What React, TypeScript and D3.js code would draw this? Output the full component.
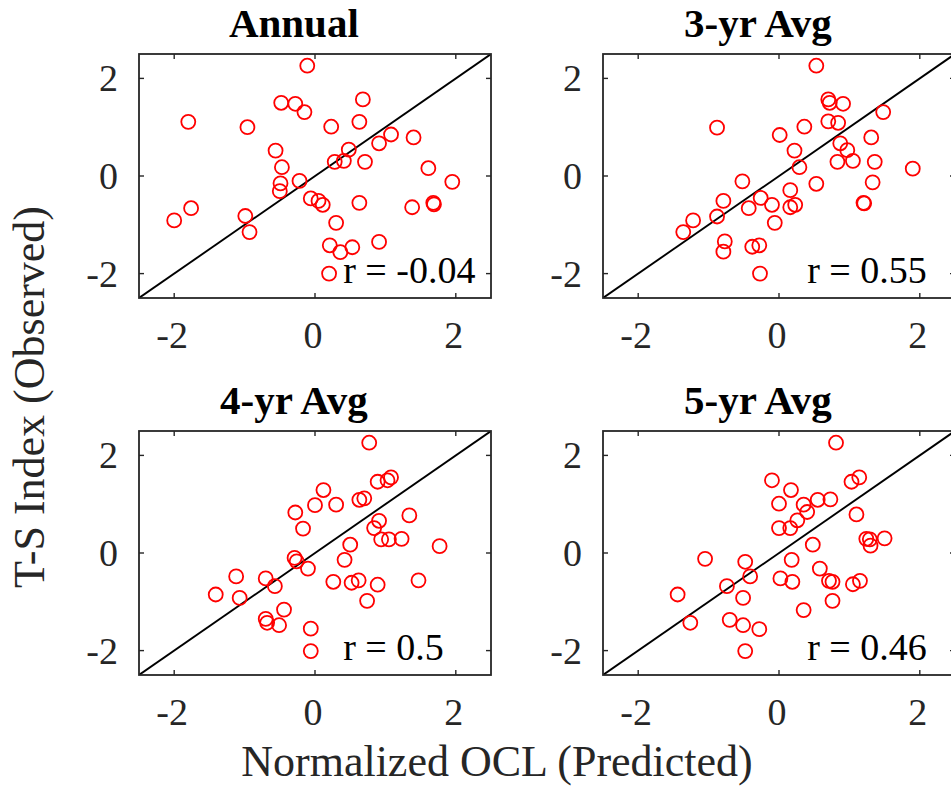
import * as d3 from 'd3'

// panel titles and r values
const titles = ['Annual', '3-yr Avg', '4-yr Avg', '5-yr Avg']
const rValues = ['-0.04', '0.55', '0.5', '0.46']
const ticks = [-2, 0, 2]

const annualX = [-0.11, -1.8, -0.96, -0.48, -0.28, -0.15, 0.23, 0.68, 0.63, 1.08, 0.91, 1.4, -0.56, 0.48, 0.28, 0.41, 0.71, -0.47, 1.61, -0.22, -0.49, -0.5, 1.95, -0.06, 0.05, 0.11, 0.63, 1.38, 1.68, 1.69, -1.76, -2.0, -0.99, -0.93, 0.3, 0.91, 0.21, 0.36, 0.53, 0.2]
const annualY = [2.26, 1.11, 1.0, 1.5, 1.48, 1.31, 1.01, 1.57, 1.11, 0.85, 0.67, 0.79, 0.52, 0.54, 0.29, 0.31, 0.29, 0.18, 0.16, -0.1, -0.15, -0.31, -0.12, -0.46, -0.51, -0.59, -0.55, -0.64, -0.55, -0.58, -0.66, -0.91, -0.82, -1.15, -0.96, -1.35, -1.42, -1.56, -1.46, -2.0]

const avg3X = [0.53, -0.88, 0.7, 0.72, 0.91, 0.7, 0.84, 1.48, 0.36, 0.01, 1.31, 0.87, 0.97, 0.22, 0.83, 1.05, 1.36, 0.29, 1.9, -0.52, 0.53, 1.33, 0.16, -0.79, -0.26, -0.1, -0.43, 0.16, 0.23, 1.2, 1.21, -1.22, -0.88, -1.36, -0.06, -0.77, -0.79, -0.38, -0.28, -0.27]
const avg3Y = [2.26, 0.99, 1.57, 1.5, 1.48, 1.12, 1.09, 1.31, 1.01, 0.84, 0.79, 0.67, 0.53, 0.52, 0.29, 0.31, 0.29, 0.18, 0.15, -0.11, -0.16, -0.13, -0.29, -0.51, -0.45, -0.59, -0.66, -0.64, -0.59, -0.55, -0.56, -0.91, -0.83, -1.15, -0.96, -1.34, -1.55, -1.45, -1.42, -2.0]

const avg4X = [0.77, 0.12, 0.89, 1.03, 1.08, 0.0, 0.3, 0.63, 0.7, -0.28, 1.34, -0.17, 0.91, 0.84, 0.94, 1.05, 1.23, 0.5, 1.77, -0.29, -0.26, 0.42, -0.1, -1.12, -0.7, -0.57, 0.26, 0.52, 0.62, 0.89, 1.47, -1.41, -1.07, 0.74, -0.44, -0.7, -0.68, -0.51, -0.06, -0.06]
const avg4Y = [2.26, 1.29, 1.46, 1.49, 1.55, 0.98, 0.99, 1.09, 1.12, 0.83, 0.77, 0.5, 0.66, 0.51, 0.28, 0.28, 0.29, 0.17, 0.14, -0.1, -0.17, -0.14, -0.32, -0.48, -0.52, -0.68, -0.59, -0.61, -0.56, -0.65, -0.56, -0.85, -0.92, -0.98, -1.16, -1.35, -1.43, -1.48, -1.55, -2.01]

const avg5X = [0.81, -0.1, 0.17, 1.03, 1.14, 0.0, 0.35, 0.55, 0.73, 0.4, 0.26, 1.1, 0.0, 0.16, 1.24, 1.29, 1.3, 1.5, 0.48, -1.05, -0.48, 0.18, -0.41, 0.58, 0.02, 0.19, 0.71, 0.76, 1.05, 1.15, -1.44, -0.74, -0.51, 0.76, 0.35, -1.26, -0.7, -0.51, -0.28, -0.48]
const avg5Y = [2.26, 1.49, 1.29, 1.46, 1.55, 1.01, 0.99, 1.09, 1.1, 0.84, 0.67, 0.79, 0.51, 0.51, 0.29, 0.28, 0.15, 0.3, 0.17, -0.12, -0.18, -0.14, -0.48, -0.32, -0.52, -0.59, -0.57, -0.59, -0.64, -0.57, -0.85, -0.68, -0.92, -0.98, -1.17, -1.43, -1.37, -1.48, -1.56, -2.01]

const seriesX = [annualX, avg3X, avg4X, avg5X]
const seriesY = [annualY, avg3Y, avg4Y, avg5Y]

const W = 951
const H = 787
const colLeft = [139, 603]
const rowTop = [54, 431]
const pw = 352
const ph = 244
const FONT = '"Liberation Serif", "Times New Roman", serif'
const AXIS = '#262626'

function Panel({ i }: { i: number }) {
  const left = colLeft[i % 2]
  const top = rowTop[Math.floor(i / 2)]
  const x = d3.scaleLinear().domain([-2.5, 2.5]).range([left, left + pw])
  const y = d3.scaleLinear().domain([-2.5, 2.5]).range([top + ph, top])
  const xs = seriesX[i]
  const ys = seriesY[i]
  const line = d3.line<number>().x(d => x(d)).y(d => y(d))
  const clipId = `clip${i}`
  const tl = 5

  return (
    <g>
      <clipPath id={clipId}>
        <rect x={left} y={top} width={pw} height={ph} />
      </clipPath>
      <text x={x(-0.3)} y={top - 17} textAnchor="middle" fontSize={41} fontWeight="bold" fontFamily={FONT}>
        {titles[i]}
      </text>
      <g clipPath={`url(#${clipId})`}>
        <path d={line([-2.5, 2.5]) ?? ''} stroke="#000" strokeWidth={1.9} fill="none" />
        {xs.map((v, k) => (
          <circle key={k} cx={x(v)} cy={y(ys[k])} r={7} fill="none" stroke="#ff0000" strokeWidth={1.8} />
        ))}
      </g>
      <text x={x(0.4)} y={y(-2) + 9} fontSize={38} fontFamily={FONT} fill="#000">
        {`r = ${rValues[i]}`}
      </text>
      {/* box with inner ticks on all sides */}
      <rect x={left} y={top} width={pw} height={ph} fill="none" stroke={AXIS} strokeWidth={1.8} />
      {ticks.map(t => (
        <g key={t} stroke={AXIS} strokeWidth={1.4}>
          <line x1={x(t)} x2={x(t)} y1={top + ph} y2={top + ph - tl} />
          <line x1={x(t)} x2={x(t)} y1={top} y2={top + tl} />
          <line x1={left} x2={left + tl} y1={y(t)} y2={y(t)} />
          <line x1={left + pw} x2={left + pw - tl} y1={y(t)} y2={y(t)} />
        </g>
      ))}
      {ticks.map(t => (
        <text key={'xt' + t} x={x(t) - 2} y={top + ph + 50} textAnchor="middle" fontSize={38} fontFamily={FONT} fill={AXIS}>
          {t}
        </text>
      ))}
      {ticks.map(t => (
        <text key={'yt' + t} x={left - 21} y={y(t) + 13} textAnchor="end" fontSize={38} fontFamily={FONT} fill={AXIS}>
          {t}
        </text>
      ))}
    </g>
  )
}

export default function App() {
  return (
    <svg width={W} height={H} style={{ position: 'absolute', left: 0, top: 0, background: '#fff' }}>
      <rect width={W} height={H} fill="#fff" />
      {[0, 1, 2, 3].map(i => <Panel key={i} i={i} />)}
      <text x={497} y={776} textAnchor="middle" fontSize={44} fontFamily={FONT} fill={AXIS}>
        Normalized OCL (Predicted)
      </text>
      <text transform="translate(44,397) rotate(-90)" textAnchor="middle" fontSize={44} fontFamily={FONT} fill={AXIS}>
        T-S Index (Observed)
      </text>
    </svg>
  )
}
